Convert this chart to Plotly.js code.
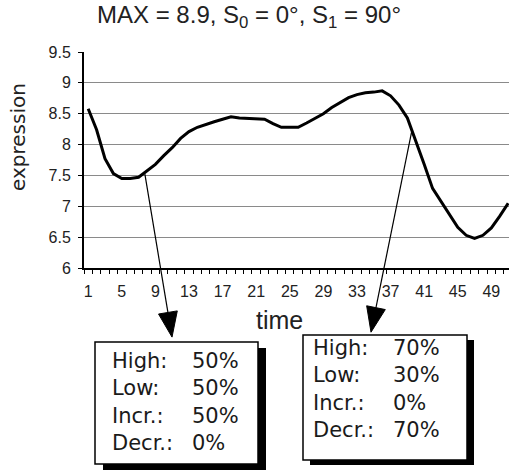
<!DOCTYPE html>
<html>
<head>
<meta charset="utf-8">
<script src="https://cdn.plot.ly/plotly-3.0.1.min.js"></script>
<style>html,body{margin:0;padding:0;background:#fff;}#chart{width:509px;height:471px;}</style>
</head>
<body>
<div id="chart"></div>
<script>
// ---- data ----
const time = [1,2,3,4,5,6,7,8,9,10,11,12,13,14,15,16,17,18,19,20,21,22,23,24,25,26,27,28,29,30,31,32,33,34,35,36,37,38,39,40,41,42,43,44,45,46,47,48,49,50,51];
const expression = [8.58,8.24,7.77,7.53,7.45,7.45,7.47,7.58,7.68,7.82,7.95,8.10,8.21,8.28,8.33,8.37,8.41,8.45,8.43,8.42,8.42,8.41,8.34,8.28,8.28,8.28,8.35,8.42,8.50,8.60,8.68,8.76,8.81,8.84,8.85,8.87,8.79,8.64,8.43,8.07,7.68,7.29,7.08,6.87,6.66,6.53,6.48,6.53,6.65,6.84,7.05];
const xTickVals = [1,5,9,13,17,21,25,29,33,37,41,45,49];
const yTickVals = [6,6.5,7,7.5,8,8.5,9,9.5];
const yTickText = ['6','6.5','7','7.5','8','8.5','9','9.5'];
const titleText = 'MAX = 8.9, S<sub>0</sub> = 0°, S<sub>1</sub> = 90°';
const boxLabels = ['High:','Low:','Incr.:','Decr.:'];
const box1Values = ['50%','50%','50%','0%'];
const box2Values = ['70%','30%','0%','70%'];
// arrow anchors (data units): tail on curve, tip below axis
const arrow1 = {t0: 7.75, v0: 7.52, t1: 10.98, v1: 4.88};
const arrow2 = {t0: 39.5, v0: 8.20, t1: 34.67, v1: 4.96};

// ---- geometry ----
const W = 509, H = 471;
const M = {l: 84, r: 0, t: 52, b: 203};
const XR = [0.5, 51.1], YR = [6, 9.5];
const PW = W - M.l - M.r, PH = H - M.t - M.b;
function toPx(t, v) {
  return [M.l + (t - XR[0]) / (XR[1] - XR[0]) * PW, M.t + (YR[1] - v) / (YR[1] - YR[0]) * PH];
}
function pp(x, y) { return [(x - M.l) / PW, (H - M.b - y) / PH]; }

const shapes = [];
const annotations = [];

function addArrow(a) {
  const p0 = toPx(a.t0, a.v0), p1 = toPx(a.t1, a.v1);
  const dx = p1[0] - p0[0], dy = p1[1] - p0[1];
  const L = Math.hypot(dx, dy), ux = dx / L, uy = dy / L;
  const headLen = 25, headHalf = 9.5;
  const bc = [p1[0] - ux * headLen, p1[1] - uy * headLen];
  const c1 = [bc[0] + uy * headHalf, bc[1] - ux * headHalf];
  const c2 = [bc[0] - uy * headHalf, bc[1] + ux * headHalf];
  const a0 = pp(p0[0], p0[1]), ab = pp(bc[0], bc[1]);
  shapes.push({type: 'line', xref: 'paper', yref: 'paper', x0: a0[0], y0: a0[1], x1: ab[0], y1: ab[1], line: {color: '#000', width: 1.2}});
  const q1 = pp(p1[0], p1[1]), q2 = pp(c1[0], c1[1]), q3 = pp(c2[0], c2[1]);
  shapes.push({type: 'path', xref: 'paper', yref: 'paper',
    path: `M${q1[0]},${q1[1]} L${q2[0]},${q2[1]} L${q3[0]},${q3[1]} Z`,
    fillcolor: '#000', line: {color: '#000', width: 1}});
}
addArrow(arrow1);
addArrow(arrow2);

function addBox(b, values) {
  const s0 = pp(b.x0 + b.sx, b.y0 + b.sy), s1 = pp(b.x1 + b.sx, b.y1 + b.sy);
  shapes.push({type: 'rect', xref: 'paper', yref: 'paper', x0: s0[0], y0: s0[1], x1: s1[0], y1: s1[1], fillcolor: '#000', line: {width: 0}});
  const r0 = pp(b.x0, b.y0), r1 = pp(b.x1, b.y1);
  shapes.push({type: 'rect', xref: 'paper', yref: 'paper', x0: r0[0], y0: r0[1], x1: r1[0], y1: r1[1], fillcolor: '#fff', line: {color: '#000', width: 1.5}});
  const font = {family: 'DejaVu Sans', size: 21, color: '#1a1a1a'};
  const lp = pp(b.lx, b.cy), vp = pp(b.vx, b.cy);
  annotations.push({xref: 'paper', yref: 'paper', x: lp[0], y: lp[1], xanchor: 'left', yanchor: 'middle', align: 'left', showarrow: false, text: boxLabels.join('<br>'), font: font});
  annotations.push({xref: 'paper', yref: 'paper', x: vp[0], y: vp[1], xanchor: 'left', yanchor: 'middle', align: 'left', showarrow: false, text: values.join('<br>'), font: font});
}
addBox({x0: 95, y0: 342, x1: 258, y1: 464, sx: 8, sy: 6, lx: 110, vx: 190, cy: 402}, box1Values);
addBox({x0: 303, y0: 335, x1: 467, y1: 460, sx: 7, sy: 5, lx: 311, vx: 391, cy: 389}, box2Values);

const yl = pp(18, 137), tl = pp(279, 320);
annotations.push({xref: 'paper', yref: 'paper', x: yl[0], y: yl[1], xanchor: 'center', yanchor: 'middle', textangle: -90, showarrow: false, text: 'expression', font: {family: 'DejaVu Sans', size: 20, color: '#222'}});
annotations.push({xref: 'paper', yref: 'paper', x: tl[0], y: tl[1], xanchor: 'center', yanchor: 'middle', showarrow: false, text: 'time', font: {family: 'Liberation Sans', size: 25, color: '#222'}});

const trace = {x: time, y: expression, type: 'scatter', mode: 'lines', line: {color: '#000', width: 3}, hoverinfo: 'skip'};

const layout = {
  width: W, height: H,
  margin: M,
  paper_bgcolor: '#fff', plot_bgcolor: '#fff',
  showlegend: false,
  title: {text: titleText, xref: 'container', yref: 'container', x: 97 / W, xanchor: 'left', y: 1 - 15 / H, yanchor: 'middle',
    font: {family: 'Liberation Sans', size: 24, color: '#222'}},
  xaxis: {range: XR, tickmode: 'array', tickvals: xTickVals, ticks: '', showgrid: false, zeroline: false,
    showline: true, linecolor: '#000', linewidth: 2, ticklabelstandoff: 8,
    tickfont: {family: 'Liberation Sans', size: 16, color: '#222'},
    minor: {tickmode: 'linear', tick0: 0.5, dtick: 1, ticks: 'outside', ticklen: 4, tickwidth: 1, tickcolor: '#000', showgrid: false}},
  yaxis: {range: YR, tickmode: 'array', tickvals: yTickVals, ticktext: yTickText, ticks: 'outside', ticklen: 4, tickwidth: 1, tickcolor: '#000',
    showgrid: true, gridcolor: '#8a8a8a', gridwidth: 1, zeroline: false, showline: true, linecolor: '#000', linewidth: 2, ticklabelstandoff: 4,
    tickfont: {family: 'Liberation Sans', size: 16, color: '#222'}},
  shapes: shapes,
  annotations: annotations
};
Plotly.newPlot('chart', [trace], layout, {staticPlot: true});
</script>
</body>
</html>
